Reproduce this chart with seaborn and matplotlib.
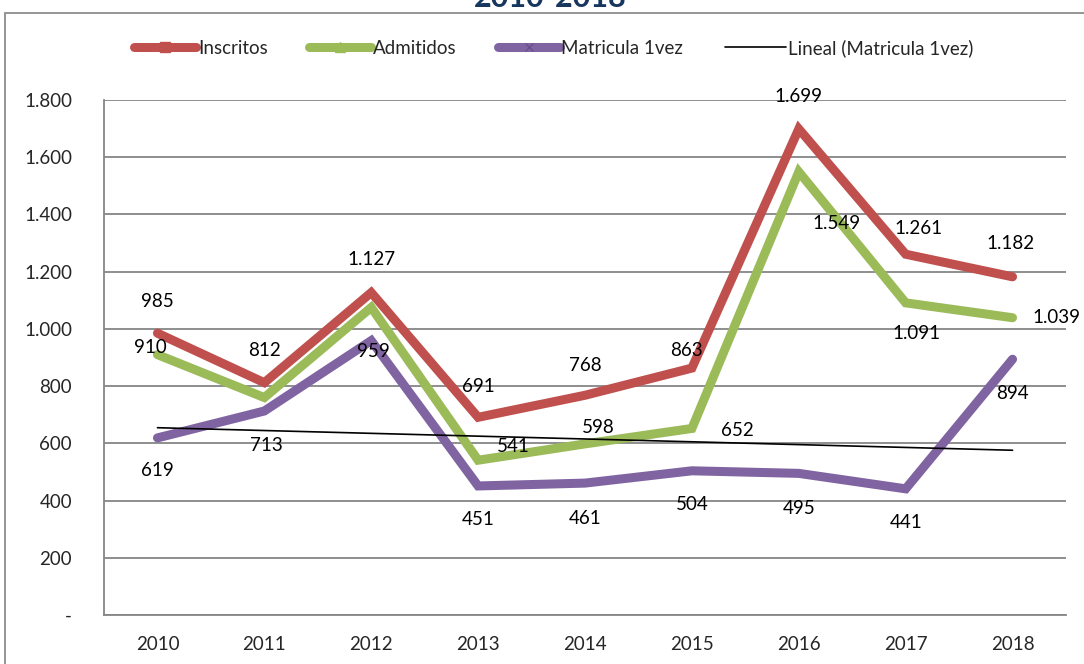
import numpy as np
import pandas as pd
import matplotlib
matplotlib.use("Agg")
import matplotlib.pyplot as plt
from matplotlib.lines import Line2D
from matplotlib.patches import Rectangle
import seaborn as sns

years = [2010, 2011, 2012, 2013, 2014, 2015, 2016, 2017, 2018]
inscritos = [985, 812, 1127, 691, 768, 863, 1699, 1261, 1182]
admitidos = [910, 760, 1075, 541, 598, 652, 1549, 1091, 1039]
matricula = [619, 713, 959, 451, 461, 504, 495, 441, 894]
series_names = ["Inscritos", "Admitidos", "Matricula 1vez"]
trend_name = "Lineal (Matricula 1vez)"
title = "2010-2018"
y_ticks = [0, 200, 400, 600, 800, 1000, 1200, 1400, 1600, 1800]
# which admitidos labels are shown (Excel hid 2011/2012)
adm_label_shown = [True, False, False, True, True, True, True, True, True]

# label offsets in pixels (dx, dy) -- style only
ins_off = [(0, 32), (0, 32), (0, 33), (0, 31), (0, 30), (-5, 18), (0, 32), (13, 26), (-2, 33)]
adm_off = [(-7, 7), (0, 0), (0, 0), (35, 14), (13, 16), (45, -2), (38, -52), (11, -31), (44, 0)]
mat_off = [(0, -33), (2, -34), (2, -11), (0, -34), (0, -35), (0, -34), (0, -35), (0, -34), (0, -34)]

colors = {"Inscritos": "#C0504D", "Admitidos": "#9BBB59", "Matricula 1vez": "#8064A2"}

df = pd.DataFrame({
    "year": years * 3,
    "value": inscritos + admitidos + matricula,
    "serie": sum([[n] * len(years) for n in series_names], []),
})

sns.set_theme(style="white")
plt.rcParams["font.family"] = ["Lato", "DejaVu Sans"]
FS = 13.5

fig = plt.figure(figsize=(10.84, 6.64), dpi=100)
ax = fig.add_axes([104 / 1084, 1 - 615 / 664, (1066 - 104) / 1084, (615 - 100) / 664])

sns.lineplot(data=df, x="year", y="value", hue="serie", palette=colors,
             hue_order=series_names, linewidth=6.5, ax=ax, legend=False,
             solid_capstyle="round", solid_joinstyle="miter", zorder=3)

# linear trend of matricula
coef = np.polyfit(years, matricula, 1)
trend = np.polyval(coef, years)
ax.plot(years, trend, color="black", linewidth=1.2, zorder=4)

fmt = lambda v: f"{v:,}".replace(",", ".")
for x, v, (dx, dy) in zip(years, inscritos, ins_off):
    ax.annotate(fmt(v), (x, v), xytext=(dx * 0.72, dy * 0.72), textcoords="offset points",
                ha="center", va="center", fontsize=FS, color="black", zorder=5)
for x, v, (dx, dy), s in zip(years, admitidos, adm_off, adm_label_shown):
    if s:
        ax.annotate(fmt(v), (x, v), xytext=(dx * 0.72, dy * 0.72), textcoords="offset points",
                    ha="center", va="center", fontsize=FS, color="black", zorder=5)
for x, v, (dx, dy) in zip(years, matricula, mat_off):
    ax.annotate(fmt(v), (x, v), xytext=(dx * 0.72, dy * 0.72), textcoords="offset points",
                ha="center", va="center", fontsize=FS, color="black", zorder=5)

ax.set_xlim(years[0] - 0.5, years[-1] + 0.5)
ax.set_ylim(0, 1800)
ax.set_yticks(y_ticks)
ax.set_yticklabels(["-" if t == 0 else fmt(t) for t in y_ticks], fontsize=FS)
ax.set_xticks(years)
ax.set_xticklabels([str(y) for y in years], fontsize=FS)
ax.set_xticks([y - 0.5 for y in years] + [years[-1] + 0.5], minor=True)
ax.tick_params(axis="x", which="major", length=0, pad=15)
ax.tick_params(axis="x", which="minor", length=6, width=1.3, color="#868686", direction="out")
ax.tick_params(axis="y", which="major", length=6, width=1.3, color="#868686", direction="out", pad=17)
ax.set_xlabel("")
ax.set_ylabel("")
ax.grid(axis="y", color="#868686", linewidth=1.3)
ax.grid(axis="x", visible=False)
ax.set_axisbelow(True)
for side in ["top", "right"]:
    ax.spines[side].set_visible(False)
for side in ["left", "bottom"]:
    ax.spines[side].set_color("#868686")
    ax.spines[side].set_linewidth(1.3)

handles = [
    Line2D([], [], color=colors["Inscritos"], lw=6.5, marker="s", markersize=7, solid_capstyle="round"),
    Line2D([], [], color=colors["Admitidos"], lw=6.5, marker="^", markersize=7, solid_capstyle="round"),
    Line2D([], [], color=colors["Matricula 1vez"], lw=6.5, marker="x", markersize=6,
           markeredgecolor="#6a4f90", solid_capstyle="round"),
    Line2D([], [], color="black", lw=1.2),
]
fig.legend(handles, series_names + [trend_name], loc="center", bbox_to_anchor=(554 / 1084, 1 - 48 / 664),
           ncol=4, frameon=False, fontsize=FS, handlelength=3.3, handletextpad=0.1, columnspacing=2.2)

# outer chart border
fig.patches.append(Rectangle((5 / 1084, -0.05), 1.2, 1 - 13 / 664 + 0.05, transform=fig.transFigure,
                             fill=False, edgecolor="#8c8c8c", linewidth=1.3))

fig.text(550 / 1084, 1 - 7 / 664, title, ha="center", va="baseline", fontsize=22,
         fontweight="bold", color="#17375E")

fig.savefig("out.png", dpi=100)
